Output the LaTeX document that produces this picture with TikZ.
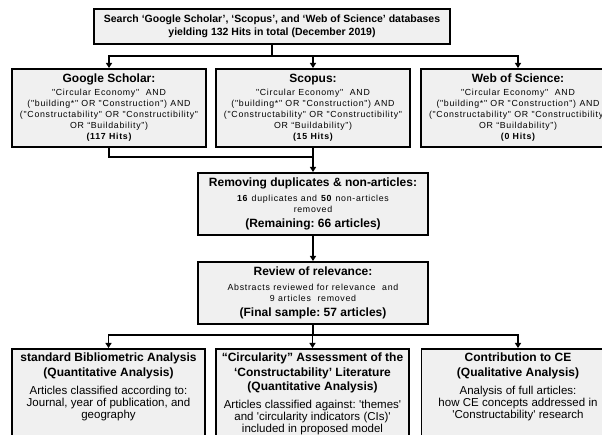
\documentclass[tikz,border=0pt]{standalone}
\usepackage{fontspec}
\setmainfont{Liberation Sans}
\newfontfamily\spacedfont[LetterSpace=8]{Liberation Sans}
\usetikzlibrary{positioning}
\usetikzlibrary{calc}
\usetikzlibrary{arrows.meta}
\frenchspacing

\newcommand{\headfont}{\fontsize{12}{14.5}\selectfont\bfseries}
\newcommand{\queryfont}{\spacedfont\fontsize{8.8}{11}\selectfont}
\newcommand{\bodyfont}{\fontsize{11.5}{12}\selectfont}

\begin{document}
\begin{tikzpicture}[x=1pt,y=-1pt]
  \useasboundingbox (0,0) rectangle (602,435);

  \tikzset{node common/.style={draw, line width=1.8pt, fill=gray!12, align=center, inner sep=2pt}}
  \tikzset{search node/.style={node common, anchor=north, minimum width=356pt, minimum height=35pt, font=\fontsize{10.5}{13}\selectfont\bfseries}}
  \tikzset{query node/.style={node common, anchor=north, minimum width=194pt, minimum height=78pt, text width=188pt}}
  \tikzset{stage node/.style={node common, anchor=north, minimum width=230pt, minimum height=62pt, text width=224pt}}
  \tikzset{result node/.style={node common, anchor=north, minimum width=193pt, text width=187pt, inner ysep=4pt}}
  \tikzset{link/.style={line width=1.6pt, line cap=rect}}
  \tikzset{arrow link/.style={line width=1.6pt, -{Triangle[length=5pt,width=6pt]}}}

  \def\querylines{"Circular Economy"~~AND\\ ("building*" OR "Construction") AND\\ ("Constructability" OR "Constructibility"\\ OR “Buildability”)}

  % search
  \node[search node] (search) at (272,8) {Search ‘Google Scholar’, ‘Scopus’, and ‘Web of Science’ databases\\ yielding 132 Hits in total (December 2019)};

  % databases
  \node[query node] (gs) at (109,68) {{\headfont Google Scholar:\par}\vspace{2pt}{\queryfont\querylines\par}{\queryfont\bfseries (117 Hits)\par}};
  \node[query node] (scopus) at (313,68) {{\headfont Scopus:\par}\vspace{2pt}{\queryfont\querylines\par}{\queryfont\bfseries (15 Hits)\par}};
  \node[query node] (wos) at (518,68) {{\headfont Web of Science:\par}\vspace{2pt}{\queryfont\querylines\par}{\queryfont\bfseries (0 Hits)\par}};

  % screening
  \node[stage node] (remove) at (313,172) {{\headfont Removing duplicates \& non-articles:\par}\vspace{4pt}{\queryfont\textbf{16} duplicates and \textbf{50} non-articles\\ removed\par}{\headfont (Remaining: 66 articles)\par}};
  \node[stage node] (review) at (313,261) {{\headfont Review of relevance:\par}\vspace{4pt}{\queryfont Abstracts reviewed for relevance~ and\\ 9 articles~ removed\par}{\headfont (Final sample: 57 articles)\par}};

  % analyses
  \node[result node] (bib) at (108.5,348) {{\headfont standard Bibliometric Analysis\\ (Quantitative Analysis)\par}\vspace{6pt}{\bodyfont Articles classified according to:\\ Journal, year of publication, and\\ geography\par}\vspace*{30pt}\mbox{}};
  \node[result node] (circ) at (312.5,348) {{\headfont “Circularity” Assessment of the\\ ‘Constructability’ Literature\\ (Quantitative Analysis)\par}\vspace{6pt}{\bodyfont Articles classified against: \textquotesingle themes\textquotesingle\\ and \textquotesingle circularity indicators (CIs)\textquotesingle\\ included in proposed model\par}\vspace*{30pt}\mbox{}};
  \node[result node] (contrib) at (518,348) {{\headfont Contribution to CE\\ (Qualitative Analysis)\par}\vspace{6pt}{\bodyfont Analysis of full articles:\\ how CE concepts addressed in\\ \textquotesingle Constructability\textquotesingle\ research\par}\vspace*{30pt}\mbox{}};

  % connectors
  \coordinate (fan top) at (272,56);
  \draw[link] (search.south) -- (fan top);
  \draw[link] (fan top -| gs) -- (fan top -| wos);
  \foreach \n in {gs,scopus,wos}
    \draw[arrow link] (fan top -| \n) -- (\n.north);

  \coordinate (merge) at (313,157);
  \draw[link] (gs.south) -- (gs.south |- merge) -- (merge);
  \draw[arrow link] (scopus.south) -- (remove.north);
  \draw[arrow link] (remove.south) -- (review.north);

  \coordinate (fan bottom) at (313,335);
  \draw[link] (review.south) -- (fan bottom);
  \draw[link] (fan bottom -| bib) -- (fan bottom -| contrib);
  \foreach \n in {bib,circ,contrib}
    \draw[arrow link] (fan bottom -| \n) -- (\n.north);
\end{tikzpicture}
\end{document}
